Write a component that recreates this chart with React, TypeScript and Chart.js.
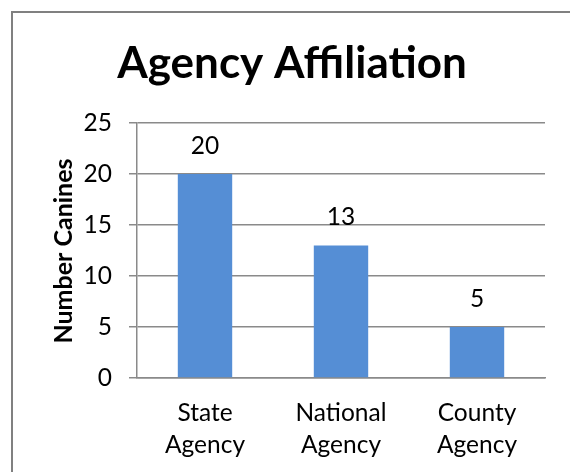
import { useEffect, useRef } from "react";
import { Chart, registerables } from "chart.js";

Chart.register(...registerables);

const chartTitle = "Agency Affiliation";
const yAxisTitle = "Number Canines";
const categories = [
  ["State", "Agency"],
  ["National", "Agency"],
  ["County", "Agency"],
];
const canineCounts = [20, 13, 5];
const yMin = 0;
const yMax = 25;
const yStep = 5;

const FONT = "Lato, Carlito, Calibri, sans-serif";
const GRID = "#8a8a8a";
const FRAME = "#808080";
const BAR = "#558ED5";
const TXT = 24.5;

const decorPlugin = {
  id: "decor",
  afterDraw(chart: any) {
    const ctx = chart.ctx;
    ctx.save();
    // clear the far right strip, then outer frame (only top/left visible in the crop)
    ctx.fillStyle = "#fff";
    ctx.fillRect(560, 13, 10, 459);
    ctx.strokeStyle = FRAME;
    ctx.lineWidth = 2;
    ctx.beginPath();
    ctx.moveTo(12, 480);
    ctx.lineTo(12, 12);
    ctx.lineTo(580, 12);
    ctx.stroke();
    // title
    ctx.fillStyle = "#000";
    ctx.font = `bold 44px ${FONT}`;
    ctx.textAlign = "center";
    ctx.textBaseline = "alphabetic";
    ctx.fillText(chartTitle, 292, 78);
    // y axis title
    ctx.save();
    ctx.translate(64, 251);
    ctx.rotate(-Math.PI / 2);
    ctx.font = `bold 25px ${FONT}`;
    ctx.textBaseline = "middle";
    ctx.fillText(yAxisTitle, 0, 0);
    ctx.restore();
    // data labels
    const meta = chart.getDatasetMeta(0);
    ctx.font = `${TXT}px ${FONT}`;
    ctx.textAlign = "center";
    ctx.textBaseline = "middle";
    meta.data.forEach((bar: any, i: number) => {
      ctx.fillText(String(chart.data.datasets[0].data[i]), bar.x, bar.y - 28);
    });
    ctx.restore();
  },
};

export default function App() {
  const ref = useRef<HTMLCanvasElement | null>(null);
  useEffect(() => {
    if (!ref.current) return;
    const chart = new Chart(ref.current, {
      type: "bar",
      data: {
        labels: categories,
        datasets: [
          {
            data: canineCounts,
            backgroundColor: BAR,
            borderWidth: 0,
            barPercentage: 0.4,
            categoryPercentage: 1,
          },
        ],
      },
      options: {
        responsive: false,
        animation: false,
        devicePixelRatio: 1,
        layout: { padding: { top: 123, left: 0, right: 25, bottom: 0 } },
        plugins: {
          legend: { display: false },
          title: { display: false },
          tooltip: { enabled: false },
        },
        scales: {
          x: {
            grid: { display: false, drawTicks: false },
            border: { display: true, color: GRID, width: 1.5 },
            ticks: {
              color: "#000",
              font: { family: FONT, size: TXT, lineHeight: 32 / TXT },
              padding: 19,
              maxRotation: 0,
              autoSkip: false,
            },
            afterFit: (s: any) => {
              s.height = 94;
            },
          },
          y: {
            min: yMin,
            max: yMax,
            grid: { color: GRID, lineWidth: 1.5, tickLength: 8, drawTicks: true },
            border: { display: true, color: GRID, width: 1.5 },
            ticks: {
              stepSize: yStep,
              color: "#000",
              font: { family: FONT, size: TXT },
              padding: 17,
            },
            afterFit: (s: any) => {
              s.width = 137;
            },
          },
        },
      },
      plugins: [decorPlugin],
    });
    return () => chart.destroy();
  }, []);
  return (
    <div style={{ position: "fixed", left: 0, top: 0, width: 570, height: 472, background: "#fff" }}>
      <canvas ref={ref} width={570} height={472} style={{ display: "block" }} />
    </div>
  );
}
